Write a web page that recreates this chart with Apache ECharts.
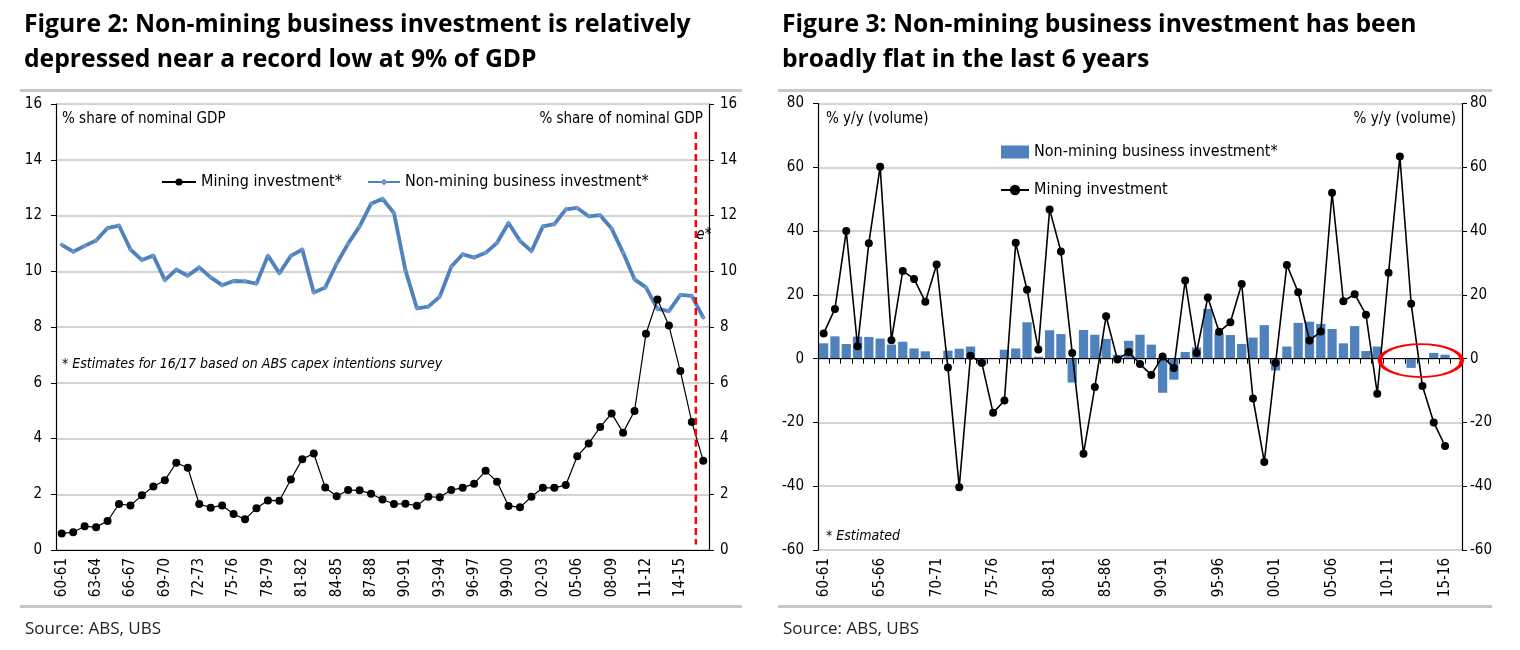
<!DOCTYPE html>
<html><head><meta charset="utf-8">
<script src="https://cdn.jsdelivr.net/npm/echarts@6/dist/echarts.min.js"></script>
<style>html,body{margin:0;padding:0;background:#fff}#c{width:1520px;height:650px}</style>
</head><body><div id="c"></div>
<script>
const categories = [
 '60-61','61-62','62-63','63-64','64-65','65-66','66-67','67-68','68-69','69-70',
 '70-71','71-72','72-73','73-74','74-75','75-76','76-77','77-78','78-79','79-80',
 '80-81','81-82','82-83','83-84','84-85','85-86','86-87','87-88','88-89','89-90',
 '90-91','91-92','92-93','93-94','94-95','95-96','96-97','97-98','98-99','99-00',
 '00-01','01-02','02-03','03-04','04-05','05-06','06-07','07-08','08-09','09-10',
 '10-11','11-12','12-13','13-14','14-15','15-16','16-17'];

// Figure 2: % share of nominal GDP
const miningShare = [
 0.59,0.64,0.85,0.82,1.04,1.65,1.60,1.96,2.28,2.50,
 3.13,2.95,1.65,1.52,1.60,1.29,1.10,1.50,1.78,1.77,
 2.53,3.26,3.46,2.24,1.93,2.15,2.14,2.02,1.81,1.65,
 1.66,1.59,1.91,1.89,2.15,2.23,2.38,2.84,2.45,1.58,
 1.53,1.91,2.23,2.23,2.33,3.36,3.82,4.41,4.90,4.21,
 4.99,7.76,8.99,8.05,6.42,4.59,3.20];
const nonMiningShare = [
 10.95,10.70,10.91,11.10,11.55,11.64,10.78,10.40,10.56,9.68,
 10.06,9.84,10.14,9.78,9.50,9.65,9.64,9.56,10.56,9.93,
 10.55,10.78,9.24,9.42,10.27,10.99,11.61,12.42,12.60,12.09,
 10.04,8.67,8.73,9.09,10.16,10.61,10.49,10.66,11.02,11.73,
 11.09,10.72,11.61,11.69,12.22,12.27,11.97,12.01,11.53,10.67,
 9.71,9.42,8.65,8.57,9.15,9.12,8.34];

// Figure 3: % y/y (volume)
const nonMiningGrowth = [
 4.8,7.0,4.6,6.9,6.8,6.3,4.4,5.3,3.2,2.3,
 0,2.5,3.1,3.8,-1.9,0,2.8,3.2,11.4,0.6,
 8.9,7.7,-7.5,9.0,7.5,6.2,1.2,5.6,7.5,4.4,
 -10.7,-6.6,2.1,3.5,15.6,8.0,7.4,4.6,6.6,10.5,
 -3.7,3.8,11.2,11.6,10.9,9.3,4.8,10.2,2.4,3.8,
 0.2,0,-2.9,-0.2,1.8,1.25,null];
const miningGrowth = [
 7.9,15.6,40.0,3.9,36.2,60.2,5.8,27.5,25.0,17.8,
 29.5,-2.8,-40.3,0.9,-1.4,-17.0,-13.1,36.3,21.6,2.9,
 46.8,33.6,1.8,-29.8,-8.9,13.3,-0.3,2.1,-1.7,-5.1,
 0.7,-2.9,24.5,1.8,19.2,8.4,11.4,23.4,-12.5,-32.4,
 -1.4,29.4,20.8,5.7,8.5,52.0,18.0,20.2,13.8,-11.0,
 26.9,63.4,17.2,-8.6,-20.0,-27.4,null];

const shareTicks = [0, 16, 2];
const growthTicks = [-60, 80, 20];
const estimateMarker = 55.85;      // position (in category units) of the estimate divider
const flatPeriodCentre = [53.36, -0.6];

const NARROW = '"Liberation Sans Narrow","DejaVu Sans Condensed",Arial,sans-serif';
const SANS = '"Open Sans","Liberation Sans",sans-serif';
const BLUE = '#4f81bd';
const GRID = '#c4c4c4';

const chart = echarts.init(document.getElementById('c'), null, {renderer: 'canvas'});

function valAxis(gridIndex, pos, ticks, split, margin) {
  return {
    type: 'value', gridIndex, position: pos, min: ticks[0], max: ticks[1], interval: ticks[2],
    axisLine: {show: true, lineStyle: {color: '#000', width: 1.2}},
    axisTick: {show: true, length: 5, lineStyle: {color: '#000'}},
    axisLabel: {color: '#000', fontFamily: NARROW, fontSize: 15, margin: margin},
    splitLine: {show: split, lineStyle: {color: GRID, width: 1.5}}
  };
}

const titleStyle = {fontFamily: SANS, fontWeight: 'bold', fontSize: 24.7, lineHeight: 35, color: '#000'};
const option = {
  animation: false,
  backgroundColor: '#fff',
  title: [
    {text: 'Figure 2: Non-mining business investment is relatively\ndepressed near a record low at 9% of GDP',
     left: 19, top: 2, textStyle: titleStyle},
    {text: 'Figure 3: Non-mining business investment has been\nbroadly flat in the last 6 years',
     left: 777, top: 2, textStyle: titleStyle},
    {text: 'Source: ABS, UBS', left: 20, top: 616, textStyle: {fontFamily: SANS, fontWeight: 'normal', fontSize: 17, color: '#222'}},
    {text: 'Source: ABS, UBS', left: 778, top: 616, textStyle: {fontFamily: SANS, fontWeight: 'normal', fontSize: 17, color: '#222'}}
  ],
  legend: [
    {data: ['Mining investment*'], left: 156, top: 169, itemWidth: 34, itemHeight: 9,
     textStyle: {fontFamily: NARROW, fontSize: 16, color: '#000'}},
    {data: ['Non-mining business investment*'], left: 362, top: 169, itemWidth: 32, itemHeight: 9,
     textStyle: {fontFamily: NARROW, fontSize: 16, color: '#000'}},
    {data: [{name: 'Non-mining business investment* ', icon: 'rect'}, 'Mining investment'],
     orient: 'vertical', left: 995, top: 139, itemWidth: 28, itemHeight: 13, itemGap: 22,
     textStyle: {fontFamily: NARROW, fontSize: 16, color: '#000'}}
  ],
  grid: [
    {left: 56, right: 811, top: 104, bottom: 100},
    {left: 818, right: 58, top: 103.5, bottom: 100}
  ],
  xAxis: [
    {type: 'category', gridIndex: 0, data: categories, boundaryGap: true,
     axisLine: {lineStyle: {color: '#000', width: 1.2}},
     axisTick: {interval: 0, length: 5, lineStyle: {color: '#000'}},
     axisLabel: {interval: 2, rotate: 90, color: '#000', fontFamily: NARROW, fontSize: 15, margin: 8}},
    {type: 'value', gridIndex: 0, min: 0, max: 57, show: false},
    {type: 'category', gridIndex: 1, data: categories, boundaryGap: true, position: 'bottom',
     axisLine: {show: false, onZero: false}, axisTick: {show: false},
     axisLabel: {interval: 4, rotate: 90, color: '#000', fontFamily: NARROW, fontSize: 15, margin: 8}},
    {type: 'category', gridIndex: 1, data: categories, boundaryGap: true, position: 'bottom',
     axisLine: {show: true, onZero: true, lineStyle: {color: '#000', width: 1.2}},
     axisTick: {show: true, interval: 0, length: 5, lineStyle: {color: '#000'}},
     axisLabel: {show: false}, z: 5},
    {type: 'value', gridIndex: 1, min: 0, max: 57, show: false}
  ],
  yAxis: [
    valAxis(0, 'left', shareTicks, true, 14),
    valAxis(0, 'right', shareTicks, false, 11),
    valAxis(1, 'left', growthTicks, true, 14),
    valAxis(1, 'right', growthTicks, false, 8)
  ],
  series: [
    {name: 'Non-mining business investment*', type: 'line', xAxisIndex: 0, yAxisIndex: 0, data: nonMiningShare,
     symbol: 'diamond', symbolSize: 5, showSymbol: true, showAllSymbol: true,
     lineStyle: {color: BLUE, width: 3.8}, itemStyle: {color: '#6b97cf'}, z: 3},
    {name: 'Mining investment*', type: 'line', xAxisIndex: 0, yAxisIndex: 0, data: miningShare,
     symbol: 'circle', symbolSize: 8, showAllSymbol: true,
     lineStyle: {color: '#000', width: 1.2}, itemStyle: {color: '#000'}, z: 4},
    {name: 'estimate', type: 'line', xAxisIndex: 1, yAxisIndex: 0,
     data: [[estimateMarker, 15], [estimateMarker, 0.2]], symbol: 'none',
     lineStyle: {color: '#ff0000', width: 2.5, type: [7, 4]}, z: 5,
     markPoint: {symbol: 'rect', symbolSize: 1, itemStyle: {color: 'transparent'},
       label: {show: true, formatter: 'e*', position: 'right', distance: 0, fontStyle: 'italic', fontFamily: NARROW, fontSize: 15, color: '#000'},
       data: [{coord: [estimateMarker, 11.3]}]}},
    {name: 'Non-mining business investment* ', type: 'bar', xAxisIndex: 2, yAxisIndex: 2, data: nonMiningGrowth,
     barCategoryGap: '18%', itemStyle: {color: BLUE}},
    {name: 'Mining investment', type: 'line', xAxisIndex: 2, yAxisIndex: 2, data: miningGrowth,
     symbol: 'circle', symbolSize: 8, showAllSymbol: true,
     lineStyle: {color: '#000', width: 1.6}, itemStyle: {color: '#000'}, z: 4},
    {name: 'flat', type: 'scatter', xAxisIndex: 4, yAxisIndex: 2, data: [flatPeriodCentre],
     symbol: 'circle', symbolSize: [82, 33],
     itemStyle: {color: 'rgba(0,0,0,0)', borderColor: '#ff0000', borderWidth: 2.8, opacity: 1}, z: 6}
  ],
  graphic: [
    {type: 'rect', shape: {x: 20, y: 89, width: 722, height: 3}, style: {fill: '#c8c8c8'}},
    {type: 'rect', shape: {x: 20, y: 605, width: 722, height: 3}, style: {fill: '#c8c8c8'}},
    {type: 'rect', shape: {x: 778, y: 89, width: 714, height: 3}, style: {fill: '#c8c8c8'}},
    {type: 'rect', shape: {x: 778, y: 605, width: 714, height: 3}, style: {fill: '#c8c8c8'}},
    {type: 'text', left: 62, top: 112, style: {text: '% share of nominal GDP', font: '15px ' + NARROW, fill: '#000'}},
    {type: 'text', right: 817, top: 112, style: {text: '% share of nominal GDP', font: '15px ' + NARROW, fill: '#000'}},
    {type: 'text', left: 62, top: 357, style: {text: '* Estimates for 16/17 based on ABS capex intentions survey', font: 'italic 14px ' + NARROW, fill: '#000'}},
    {type: 'text', left: 826, top: 112, style: {text: '% y/y (volume)', font: '15px ' + NARROW, fill: '#000'}},
    {type: 'text', right: 64, top: 112, style: {text: '% y/y (volume)', font: '15px ' + NARROW, fill: '#000'}},
    {type: 'text', left: 826, top: 529, style: {text: '* Estimated', font: 'italic 14px ' + NARROW, fill: '#000'}}
  ]
};
chart.setOption(option);
</script></body></html>
